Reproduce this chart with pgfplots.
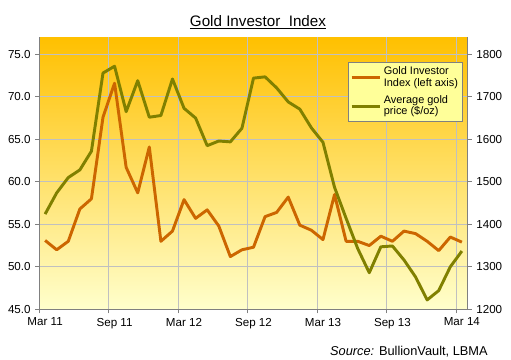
\documentclass[border=0pt]{standalone}
\usepackage{fontspec}
\setmainfont{Liberation Sans}
\usepackage{pgfplots}
\pgfplotsset{compat=1.18}
\definecolor{gii}{RGB}{204,102,0}
\definecolor{goldp}{RGB}{128,128,0}
\definecolor{axgray}{RGB}{128,128,128}
\definecolor{gridgray}{RGB}{192,192,192}
\definecolor{bgtop}{RGB}{255,192,0}
\definecolor{bgmid}{RGB}{255,255,90}
\definecolor{bgbot}{RGB}{255,255,204}
\definecolor{legfill}{RGB}{255,255,153}
\begin{document}
\begin{tikzpicture}
\useasboundingbox (-29.5pt,-37.3pt) rectangle (353.8pt,232pt);
\pgfplotsset{
  common/.style={
    width=321.3pt, height=204pt, scale only axis,
    at={(0pt,0pt)}, anchor=south west,
    xmin=0, xmax=37,
    tick align=outside, major tick length=3pt,
    ticklabel style={font=\fontsize{8.7}{10}\selectfont, text=black},
    /pgf/number format/assume math mode=true,
    tick style={axgray, line width=0.6pt},
    axis line style={axgray, line width=0.8pt, -},
  }
}
\begin{axis}[common,
  axis y line*=left, axis x line*=bottom,
  ymin=45, ymax=77, ytick={45,50,...,75},
  yticklabel style={/pgf/number format/.cd, fixed, fixed zerofill, precision=1},
  xtick={0,6,...,36}, xticklabels={},
  extra x ticks={0.5,6.5,...,36.5},
  extra x tick labels={Mar 11,Sep 11,Mar 12,Sep 12,Mar 13,Sep 13,Mar 14},
  extra x tick style={grid=none, major tick length=0pt},
  xticklabel style={yshift=-3pt},
  grid=major, grid style={gridgray, line width=0.6pt},
  axis background/.style={top color=bgtop, middle color=bgmid, bottom color=bgbot},
]
\addplot[gii, line width=2.2pt, line join=round] coordinates {
(0.5,53.1) (1.5,52.0) (2.5,53.0) (3.5,56.8) (4.5,58.0) (5.5,67.6) (6.5,71.6) (7.5,61.7) (8.5,58.7) (9.5,64.1)
(10.5,53.0) (11.5,54.2) (12.5,57.9) (13.5,55.7) (14.5,56.7) (15.5,54.8) (16.5,51.2) (17.5,52.0) (18.5,52.3) (19.5,55.9) (20.5,56.4) (21.5,58.2)
(22.5,54.9) (23.5,54.3) (24.5,53.2) (25.5,58.5) (26.5,53.0) (27.5,53.0) (28.5,52.5) (29.5,53.6) (30.5,53.0) (31.5,54.2) (32.5,53.9) (33.5,53.0)
(34.5,51.9) (35.5,53.5) (36.5,52.9)
};
\end{axis}
\begin{axis}[common,
  axis y line*=right, axis x line=none,
  ymin=1200, ymax=1840, ytick={1200,1300,...,1800},
  yticklabel style={/pgf/number format/.cd, fixed, 1000 sep={}},
  legend cell align=left,
  legend style={at={(0.7206,0.910)}, anchor=north west, fill=legfill, draw=axgray,
    font=\fontsize{8.2}{8.6}\selectfont, cells={align=left, anchor=west},
    column sep=0pt, inner sep=1.5pt, row sep=1.5pt},
  legend image code/.code={\draw[#1] (0pt,0pt) -- (21pt,0pt);},
]
\addlegendimage{gii, line width=2.2pt}
\addlegendentry{Gold Investor\\Index (left axis)}
\addplot[goldp, line width=2.2pt, line join=round] coordinates {
(0.5,1424) (1.5,1474) (2.5,1510) (3.5,1528) (4.5,1572) (5.5,1756) (6.5,1772) (7.5,1665) (8.5,1738) (9.5,1652)
(10.5,1656) (11.5,1742) (12.5,1673) (13.5,1650) (14.5,1585) (15.5,1596) (16.5,1594) (17.5,1626) (18.5,1744) (19.5,1747) (20.5,1721) (21.5,1688)
(22.5,1671) (23.5,1627) (24.5,1593) (25.5,1487) (26.5,1414) (27.5,1343) (28.5,1286) (29.5,1347) (30.5,1349) (31.5,1316) (32.5,1276) (33.5,1222)
(34.5,1244) (35.5,1300) (36.5,1337)
};
\addlegendentry{Average gold\\price (\$/oz)}
\end{axis}
\node[anchor=base, font=\fontsize{11.4}{13}\selectfont] at (164pt,212pt) {\underline{Gold Investor\ \ Index}};
\node[anchor=base east, font=\fontsize{9.6}{11}\selectfont] at (339.8pt,-34.3pt) {\textit{Source:} BullionVault, LBMA};
\end{tikzpicture}
\end{document}
